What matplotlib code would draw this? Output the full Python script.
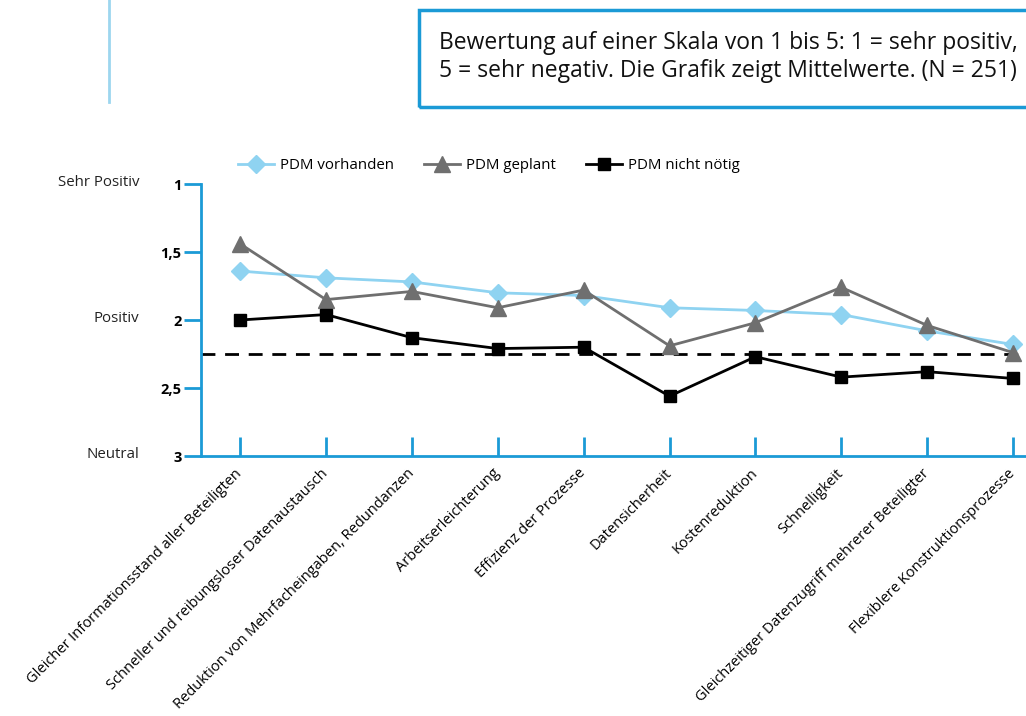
import matplotlib
matplotlib.use("Agg")
import matplotlib.pyplot as plt
from matplotlib.patches import Rectangle
from matplotlib.lines import Line2D

plt.rcParams['font.family'] = ['Open Sans', 'DejaVu Sans']

categories = [
    "Gleicher Informationsstand aller Beteiligten",
    "Schneller und reibungsloser Datenaustausch",
    "Reduktion von Mehrfacheingaben, Redundanzen",
    "Arbeitserleichterung",
    "Effizienz der Prozesse",
    "Datensicherheit",
    "Kostenreduktion",
    "Schnelligkeit",
    "Gleichzeitiger Datenzugriff mehrerer Beteiligter",
    "Flexiblere Konstruktionsprozesse",
]
pdm_vorhanden = [1.64, 1.69, 1.72, 1.80, 1.82, 1.91, 1.93, 1.96, 2.08, 2.18]
pdm_geplant = [1.44, 1.85, 1.79, 1.91, 1.78, 2.19, 2.02, 1.76, 2.04, 2.24]
pdm_nicht_noetig = [2.00, 1.96, 2.13, 2.21, 2.20, 2.56, 2.27, 2.42, 2.38, 2.43]
series_labels = ["PDM vorhanden", "PDM geplant", "PDM nicht nötig"]
reference_level = 2.25
y_ticks = [1, 1.5, 2, 2.5, 3]
y_tick_labels = ["1", "1,5", "2", "2,5", "3"]
scale_names = {1: "Sehr Positiv", 2: "Positiv", 3: "Neutral"}
note_text = ("Bewertung auf einer Skala von 1 bis 5: 1 = sehr positiv,\n"
             "5 = sehr negativ. Die Grafik zeigt Mittelwerte. (N = 251)")

W, H = 1026, 716
AXIS_BLUE = "#1b9ad6"
LIGHT_BLUE = "#8fd3f1"
GRAY = "#6f6f6f"

fig = plt.figure(figsize=(W / 100, H / 100), dpi=100)
ax = fig.add_axes([201 / W, 1 - 456 / H, (W - 201) / W, (456 - 184) / H])

x = list(range(len(categories)))
ax.plot(x, pdm_vorhanden, color=LIGHT_BLUE, lw=2.0, marker="D", ms=9.5,
        mec=LIGHT_BLUE, mfc=LIGHT_BLUE, label=series_labels[0], zorder=3)
ax.plot(x, pdm_geplant, color=GRAY, lw=2.0, marker="^", ms=11,
        mec=GRAY, mfc=GRAY, label=series_labels[1], zorder=4)
ax.plot(x, pdm_nicht_noetig, color="black", lw=2.0, marker="s", ms=8,
        mec="black", mfc="black", label=series_labels[2], zorder=5)
ax.axhline(reference_level, color="black", lw=2.0, dashes=(5, 3.5), zorder=2)

ax.set_xlim(-0.455, 9.15)
ax.set_ylim(3, 1)

for side in ("top", "right"):
    ax.spines[side].set_visible(False)
for side in ("left", "bottom"):
    ax.spines[side].set_color(AXIS_BLUE)
    ax.spines[side].set_linewidth(2)

ax.set_yticks(y_ticks)
ax.set_yticklabels(y_tick_labels, fontsize=10.5, fontweight="bold")
ax.tick_params(axis="y", direction="out", length=12, width=2,
               color=AXIS_BLUE, pad=2)

ax.set_xticks(x)
ax.set_xticklabels(categories, rotation=45, ha="right", va="center",
                   rotation_mode="anchor", fontsize=10.5)
ax.tick_params(axis="x", direction="in", length=14, width=2,
               color=AXIS_BLUE, pad=11)

for val, name in scale_names.items():
    ax.annotate(name, xy=(0, val), xycoords=("figure fraction", "data"),
                xytext=(139, 1), textcoords="offset pixels",
                ha="right", va="center", fontsize=10.8, color="#222222")

leg = ax.legend(loc="lower left", bbox_to_anchor=(238 / W, 1 - 173 / H),
                bbox_transform=fig.transFigure, ncol=3, frameon=False,
                fontsize=10.8, handlelength=2.4, handletextpad=0.4,
                columnspacing=2.0, borderaxespad=0, borderpad=0)

# note box in the upper right
fig.add_artist(Rectangle((419 / W, 1 - 107 / H), (W + 10 - 419) / W, 97 / H,
                         transform=fig.transFigure, fill=False,
                         edgecolor=AXIS_BLUE, lw=2.5, clip_on=False))
fig.text(439 / W, 1 - 57 / H, note_text, ha="left", va="center",
         fontsize=16.5, linespacing=1.25, color="#111111")

# decorative vertical rule on the left
fig.add_artist(Line2D([109 / W, 109 / W], [1 - 102 / H, 1.0],
                      transform=fig.transFigure, color="#9dd6ef", lw=2))

fig.savefig("out.png", dpi=100)
